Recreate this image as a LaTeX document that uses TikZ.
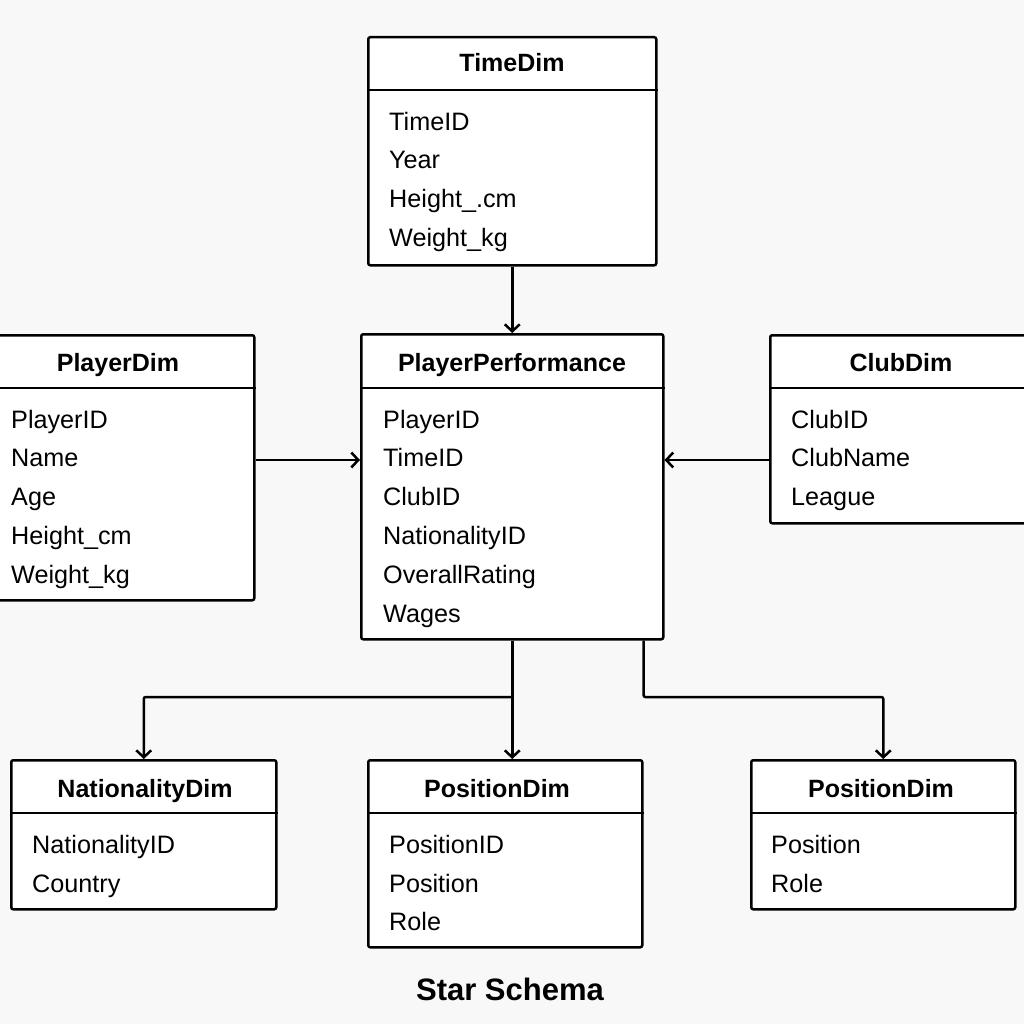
\documentclass[tikz,border=0pt]{standalone}
\usepackage{fontspec}
\setmainfont{Liberation Sans}
\usetikzlibrary{arrows.meta,calc}
\definecolor{bgray}{HTML}{F8F8F8}
\tikzstyle{l1}=[line width=2.5pt]
\tikzstyle{tbl}=[draw=black, fill=white, l1, rounded corners=2pt, anchor=north west, inner sep=0pt]
\tikzstyle{hdr}=[anchor=base, inner sep=0pt, font=\fontsize{25}{28}\selectfont\bfseries]
\tikzstyle{fld}=[anchor=base west, inner sep=0pt, font=\fontsize{25.2}{28}\selectfont]
\tikzstyle{link}=[l1, -{Straight Barb[length=7pt,width=15pt]}, rounded corners=2pt]

\begin{document}
\begin{tikzpicture}[x=1pt, y=-1pt]
    \fill[bgray, use as bounding box] (0,0) rectangle (1024,1024);

    % tables
    \node[tbl, minimum width=288pt, minimum height=228pt] at (367,36) (time) {};
    \node[tbl, minimum width=302pt, minimum height=305pt] at (360,333) (perf) {};
    \node[tbl, minimum width=270pt, minimum height=265pt] at (-17,334) (player) {};
    \node[tbl, minimum width=265pt, minimum height=188pt] at (769,334) (club) {};
    \node[tbl, minimum width=265pt, minimum height=149pt] at (10,759) (nation) {};
    \node[tbl, minimum width=274pt, minimum height=187pt] at (367,759) (posA) {};
    \node[tbl, minimum width=264pt, minimum height=149pt] at (750,759) (posB) {};

    \draw[l1] (time.west |- 0,90) -- (time.east |- 0,90);
    \draw[l1] (perf.west |- 0,388) -- (perf.east |- 0,388);
    \draw[l1] (player.west |- 0,388) -- (player.east |- 0,388);
    \draw[l1] (club.west |- 0,388) -- (club.east |- 0,388);
    \draw[l1] (nation.west |- 0,813) -- (nation.east |- 0,813);
    \draw[l1] (posA.west |- 0,813) -- (posA.east |- 0,813);
    \draw[l1] (posB.west |- 0,813) -- (posB.east |- 0,813);

    \node[hdr] at (512,72) (timeH) {TimeDim};
    \node[hdr] at (512,371) (perfH) {PlayerPerformance};
    \node[hdr] at (118,371) (playerH) {PlayerDim};
    \node[hdr] at (901,371) (clubH) {ClubDim};
    \node[hdr] at (145,797) (nationH) {NationalityDim};
    \node[hdr] at (497,797) (posAH) {PositionDim};
    \node[hdr] at (881,797) (posBH) {PositionDim};

    % fields
    \node[fld] at (389,131) (time1) {TimeID};
    \node[fld] at (389,169) (time2) {Year};
    \node[fld] at (389,208) (time3) {Height\_.cm};
    \node[fld] at (389,247) (time4) {Weight\_kg};

    \node[fld] at (383,428) (perf1) {PlayerID};
    \node[fld] at (383,466) (perf2) {TimeID};
    \node[fld] at (383,505) (perf3) {ClubID};
    \node[fld] at (383,544) (perf4) {NationalityID};
    \node[fld] at (383,583) (perf5) {OverallRating};
    \node[fld] at (383,622) (perf6) {Wages};

    \node[fld] at (11,428) (player1) {PlayerID};
    \node[fld] at (11,466) (player2) {Name};
    \node[fld] at (11,505) (player3) {Age};
    \node[fld] at (11,544) (player4) {Height\_cm};
    \node[fld] at (11,583) (player5) {Weight\_kg};

    \node[fld] at (791,428) (club1) {ClubID};
    \node[fld] at (791,466) (club2) {ClubName};
    \node[fld] at (791,505) (club3) {League};

    \node[fld] at (32,853) (nation1) {NationalityID};
    \node[fld] at (32,892) (nation2) {Country};

    \node[fld] at (389,853) (posA1) {PositionID};
    \node[fld] at (389,892) (posA2) {Position};
    \node[fld] at (389,930) (posA3) {Role};

    \node[fld] at (771,853) (posB1) {Position};
    \node[fld] at (771,892) (posB2) {Role};

    % links
    \draw[link] (time.south) -- (perf.north);
    \draw[link] (player.east |- 0,460) -- (perf.west |- 0,460);
    \draw[link] (club.west |- 0,460) -- (perf.east |- 0,460);
    \draw[link] (perf.south) -- (perf.south |- posA.north);
    \coordinate (split) at (perf.south |- 0,697);
    \draw[link] (split) -| (nation.north);
    \draw[link] (posA.east |- perf.south) |- (split -| 700,0) -| (posB.north);

    \node[hdr, font=\fontsize{31}{34}\selectfont\bfseries] at (510,1000) (title) {Star Schema};
\end{tikzpicture}
\end{document}
